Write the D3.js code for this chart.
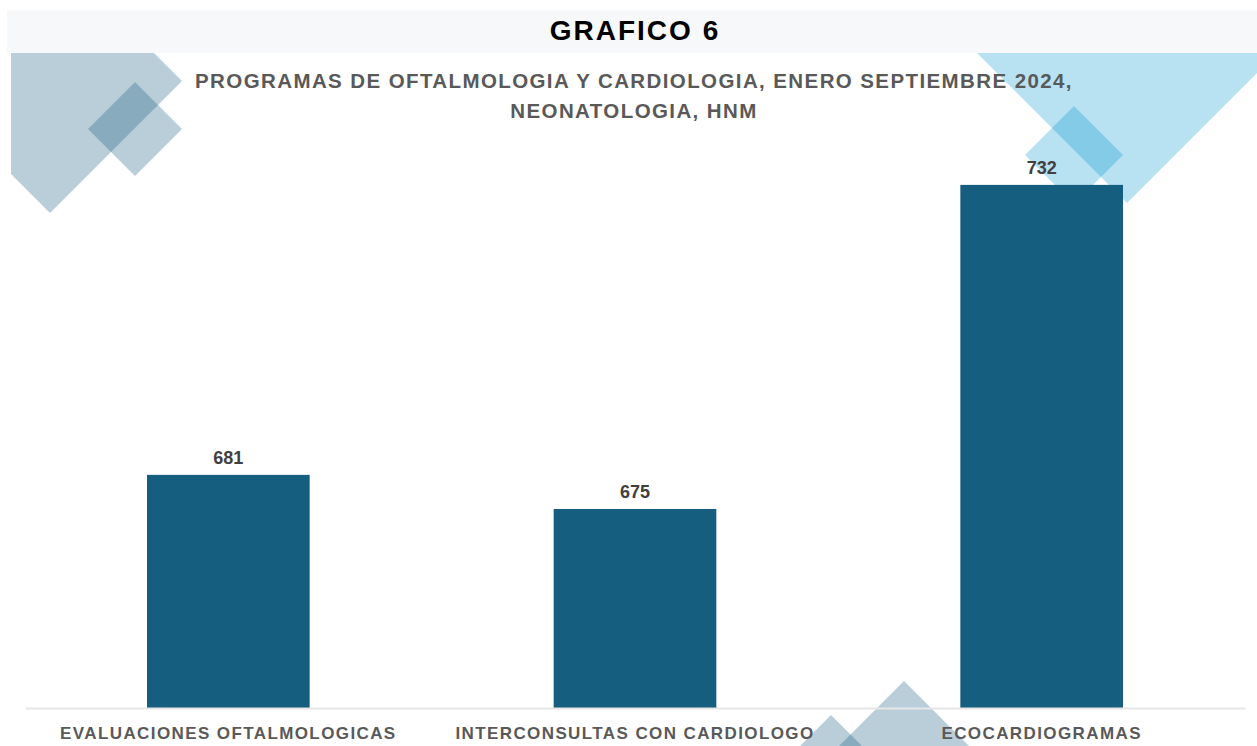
<!DOCTYPE html>
<html>
<head>
<meta charset="utf-8">
<script src="https://cdn.jsdelivr.net/npm/d3@7"></script>
<style>
    html, body { margin: 0; padding: 0; background: #ffffff; }
    svg { display: block; }
    .header-title { font-family: "Liberation Sans", Arial, sans-serif; font-weight: bold; font-size: 28px; letter-spacing: 2px; fill: #000000; }
    .chart-title { font-family: "Liberation Sans", Arial, sans-serif; font-weight: bold; font-size: 20.5px; letter-spacing: 1.4px; fill: #595959; }
    .label { font-family: "Liberation Sans", Arial, sans-serif; font-weight: bold; font-size: 18px; fill: #404040; }
    .x-axis text { font-family: "Liberation Sans", Arial, sans-serif; font-weight: bold; font-size: 17px; letter-spacing: 1.4px; fill: #595959; }
</style>
</head>
<body>
<svg id="chart"></svg>
<script>
const headerText = "GRAFICO 6";
const titleLines = [
    "PROGRAMAS DE OFTALMOLOGIA Y CARDIOLOGIA, ENERO SEPTIEMBRE 2024,",
    "NEONATOLOGIA, HNM"
];
const categories = ["EVALUACIONES OFTALMOLOGICAS", "INTERCONSULTAS CON CARDIOLOGO", "ECOCARDIOGRAMAS"];
const values = [681, 675, 732];
// value axis does not start at zero in the original
const yDomain = [640, 740];

const config = {
    containerWidth: 1257,
    containerHeight: 746,
    margin: { left: 25, right: 12, baseline: 708 },
    barColor: "#165e7f",
};

const svg = d3.select("#chart")
    .attr("width", config.containerWidth)
    .attr("height", config.containerHeight);

// decorative diamonds behind the chart (center x, center y, half diagonal, colour)
const steel = "#175e7f";
const sky = "#0094cf";
const diamonds = [
    { cx: 50, cy: 81, r: 132, color: steel, opacity: 0.3 },
    { cx: 135, cy: 129, r: 47, color: steel, opacity: 0.3 },
    { cx: 1127, cy: 3, r: 200, color: sky, opacity: 0.28 },
    { cx: 1074, cy: 155, r: 49, color: sky, opacity: 0.28 },
    { cx: 904, cy: 781, r: 100, color: steel, opacity: 0.3 },
    { cx: 831, cy: 755, r: 40, color: steel, opacity: 0.3 },
];

svg.append("clipPath")
    .attr("id", "deco-clip")
    .append("rect")
    .attr("x", 11)
    .attr("y", 53)
    .attr("width", config.containerWidth - 11)
    .attr("height", config.containerHeight - 53);

svg.append("g")
    .attr("class", "deco")
    .attr("clip-path", "url(#deco-clip)")
    .selectAll("path")
    .data(diamonds)
    .join("path")
    .attr("d", (d) => `M${d.cx},${d.cy - d.r}L${d.cx + d.r},${d.cy}L${d.cx},${d.cy + d.r}L${d.cx - d.r},${d.cy}Z`)
    .attr("fill", (d) => d.color)
    .attr("fill-opacity", (d) => d.opacity);

// header band
svg.append("rect")
    .attr("x", 7)
    .attr("y", 10)
    .attr("width", config.containerWidth - 7)
    .attr("height", 43)
    .attr("fill", "#f7f8fa");

svg.append("text")
    .attr("class", "header-title")
    .attr("x", 635)
    .attr("y", 40)
    .attr("text-anchor", "middle")
    .text(headerText);

svg.append("g")
    .selectAll("text")
    .data(titleLines)
    .join("text")
    .attr("class", "chart-title")
    .attr("x", 634)
    .attr("y", (d, i) => 88 + i * 30)
    .attr("text-anchor", "middle")
    .text((d) => d);

const xScale = d3.scaleBand()
    .domain(categories)
    .range([config.margin.left, config.containerWidth - config.margin.right])
    .paddingInner(0.6)
    .paddingOuter(0.3);

const yScale = d3.scaleLinear()
    .domain(yDomain)
    .range([config.margin.baseline, config.margin.baseline - 568.6]);

const data = categories.map((c, i) => [c, values[i]]);

const chart = svg.append("g");

chart.selectAll(".bar")
    .data(data)
    .join("rect")
    .attr("class", "bar")
    .attr("x", (d) => xScale(d[0]))
    .attr("width", xScale.bandwidth())
    .attr("y", (d) => yScale(d[1]))
    .attr("height", (d) => yScale(yDomain[0]) - yScale(d[1]))
    .attr("fill", config.barColor);

chart.selectAll(".label")
    .data(data)
    .join("text")
    .attr("class", "label")
    .attr("x", (d) => xScale(d[0]) + xScale.bandwidth() / 2)
    .attr("y", (d) => yScale(d[1]) - 11)
    .attr("text-anchor", "middle")
    .text((d) => d[1]);

const xAxis = d3.axisBottom(xScale)
    .tickSize(0)
    .tickPadding(19);

const xAxisGroup = chart.append("g")
    .attr("class", "axis x-axis")
    .attr("transform", `translate(0, ${config.margin.baseline})`)
    .call(xAxis);

xAxisGroup.select(".domain")
    .attr("stroke", "#e6e6e6")
    .attr("stroke-width", 2);

xAxisGroup.selectAll("text")
    .attr("font-family", null)
    .attr("font-size", null);
</script>
</body>
</html>
